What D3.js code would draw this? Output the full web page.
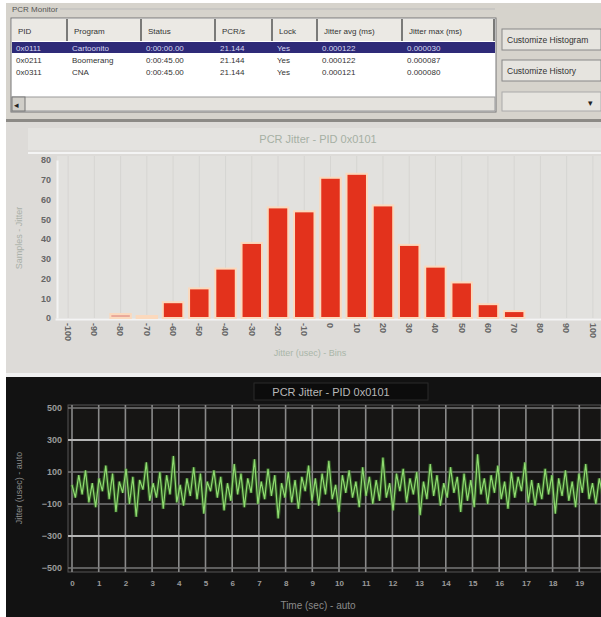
<!DOCTYPE html>
<html><head><meta charset="utf-8">
<script src="https://cdn.jsdelivr.net/npm/d3@7"></script>
<style>
html,body{margin:0;padding:0;background:#fff;}
svg{display:block;font-family:"Liberation Sans",Arial,sans-serif;}
</style></head>
<body>
<svg id="c" width="601" height="617"></svg>
<script>
// ---- table data ----
const tableHeaders = ["PID","Program","Status","PCR/s","Lock","Jitter avg (ms)","Jitter max (ms)"];
const pids = ["0x0111","0x0211","0x0311"];
const programs = ["Cartoonito","Boomerang","CNA"];
const statuses = ["0:00:00.00","0:00:45.00","0:00:45.00"];
const pcrRates = ["21.144","21.144","21.144"];
const locks = ["Yes","Yes","Yes"];
const jitterAvg = ["0.000122","0.000122","0.000121"];
const jitterMax = ["0.000030","0.000087","0.000080"];
const buttons = ["Customize Histogram","Customize History"];

// ---- histogram data ----
const histTitle = "PCR Jitter - PID 0x0101";
const binLabels = ["-100","-90","-80","-70","-60","-50","-40","-30","-20","-10","0","10","20","30","40","50","60","70","80","90","100"];
const binCounts = [0,0,2,1,8,15,25,38,56,54,71,73,57,37,26,18,7,3.5,0,0,0];
const histYTicks = [0,10,20,30,40,50,60,70,80];

// ---- history (line) data ----
const lineTitle = "PCR Jitter - PID 0x0101";
const lineYTicks = [500,300,100,-100,-300,-500];
const lineXTicks = [0,1,2,3,4,5,6,7,8,9,10,11,12,13,14,15,16,17,18,19];
const jitterSeries = [20,-60,80,-40,110,-90,30,-120,60,-20,140,-70,90,-150,40,-30,120,-100,70,-180,50,-10,160,-80,30,-60,100,-130,80,-40,200,-90,20,-110,60,-50,130,-70,90,-160,40,-20,110,-60,70,-140,30,-80,150,-40,90,-120,60,-30,180,-100,40,-70,120,-50,80,-190,30,-60,100,-90,50,-130,70,-20,140,-80,60,-110,90,-40,170,-70,20,-150,80,-30,110,-60,40,-120,130,-50,70,-100,50,-80,190,-60,30,-140,90,-20,120,-90,60,-40,100,-170,40,-70,150,-50,80,-110,30,-60,130,-30,70,-150,90,-80,50,-120,210,-40,60,-100,80,-30,140,-70,40,-130,100,-60,70,-20,160,-90,50,-110,30,-70,120,-40,80,-160,60,-50,110,-80,40,-120,90,-30,150,-70,30,-100,60,-40,130];

const svg = d3.select("#c");

// ================= TOP PANEL =================
const topG = svg.append("g");
topG.append("rect").attr("x",6).attr("y",3).attr("width",595).attr("height",116).attr("fill","#d6d3cc");
topG.append("text").attr("x",12).attr("y",12).attr("font-size",8).attr("fill","#555").text("PCR Monitor");
topG.append("line").attr("x1",60).attr("x2",495).attr("y1",9).attr("y2",9).attr("stroke","#bbb");
const tbl = topG.append("g");
tbl.append("rect").attr("x",11).attr("y",18).attr("width",485).attr("height",94).attr("fill","#fff").attr("stroke","#777");
const colEdges = [12,68,142,216,273,318,403,495];
const colX = d3.scaleOrdinal().domain(d3.range(7)).range(colEdges.slice(0,7));
tableHeaders.forEach((h,i)=>{
  const x0 = colEdges[i], x1 = colEdges[i+1];
  tbl.append("rect").attr("x",x0).attr("y",19).attr("width",x1-x0).attr("height",22).attr("fill","#ebe9e4");
  tbl.append("line").attr("x1",x1-1).attr("x2",x1-1).attr("y1",19).attr("y2",41).attr("stroke","#555").attr("stroke-width",1.5);
  tbl.append("text").attr("x",colX(i)+6).attr("y",34).attr("font-size",8).attr("fill","#333").text(h);
});
const rows = pids.map((p,i)=>[p,programs[i],statuses[i],pcrRates[i],locks[i],jitterAvg[i],jitterMax[i]]);
const rowY = d3.scaleLinear().domain([0,1]).range([48,60]);
tbl.append("rect").attr("x",12).attr("y",42).attr("width",483).attr("height",11).attr("fill","#2e2a78");
rows.forEach((r,ri)=>{
  r.forEach((v,ci)=>{
    tbl.append("text").attr("x",colX(ci)+4).attr("y",rowY(ri)+3).attr("font-size",8)
      .attr("fill", ri===0 ? "#d8d8f0" : "#333").text(v);
  });
});
tbl.append("rect").attr("x",12).attr("y",97).attr("width",483).attr("height",14).attr("fill","#e4e2dd").attr("stroke","#999");
tbl.append("rect").attr("x",12).attr("y",97).attr("width",13).attr("height",14).attr("fill","#d0cec8").attr("stroke","#777");
tbl.append("text").attr("x",14).attr("y",108).attr("font-size",9).attr("fill","#222").text("◂");
buttons.forEach((b,i)=>{
  const by = 29 + i*31;
  topG.append("rect").attr("x",502).attr("y",by).attr("width",99).attr("height",21).attr("fill","#e6e4df").attr("stroke","#888");
  topG.append("text").attr("x",507).attr("y",by+14).attr("font-size",8.5).attr("fill","#333").text(b);
});
topG.append("rect").attr("x",502).attr("y",92).attr("width",99).attr("height",19).attr("fill","#e6e4df").attr("stroke","#aaa");
topG.append("text").attr("x",588).attr("y",106).attr("font-size",9).attr("fill","#222").text("▾");

// ================= HISTOGRAM =================
const hg = svg.append("g");
hg.append("rect").attr("x",6).attr("y",119).attr("width",595).attr("height",3).attr("fill","#8c8a86");
hg.append("rect").attr("x",6).attr("y",122).attr("width",595).attr("height",251).attr("fill","#dddbd8");
hg.append("rect").attr("x",28).attr("y",128).attr("width",573).attr("height",22).attr("fill","#e4e3e0");
hg.append("line").attr("x1",28).attr("x2",601).attr("y1",153).attr("y2",153).attr("stroke","#f4f4f4").attr("stroke-width",2);
hg.append("text").attr("x",318).attr("y",143).attr("text-anchor","middle").attr("font-size",11).attr("fill","#a6b0a4").text(histTitle);

const hx = d3.scaleBand().domain(binLabels).range([55,606]).paddingInner(0.22).paddingOuter(0.11);
const hy = d3.scaleLinear().domain([0,80]).range([318,160]);

hg.append("rect").attr("x",57).attr("y",156).attr("width",544).attr("height",162).attr("fill","#e2e1de");
hg.append("g").selectAll("line").data(binLabels).join("line")
  .attr("x1",d=>hx(d)+hx.bandwidth()/2).attr("x2",d=>hx(d)+hx.bandwidth()/2)
  .attr("y1",156).attr("y2",318).attr("stroke","#d6d5d2").attr("stroke-width",1);
const hyAxis = d3.axisLeft(hy).tickValues(histYTicks).tickSize(0).tickPadding(6);
const hyG = hg.append("g").attr("transform","translate(57,0)").call(hyAxis);
hyG.select(".domain").attr("stroke","#f4f4f4").attr("stroke-width",2);
hyG.selectAll("text").attr("font-size",9).attr("font-weight","bold").attr("fill","#666");
const hxAxis = d3.axisBottom(hx).tickSize(0).tickPadding(0);
const hxG = hg.append("g").attr("transform","translate(0,319)").call(hxAxis);
hxG.select(".domain").attr("stroke","#f4f4f4").attr("stroke-width",2);
hxG.selectAll("text").attr("font-size",9).attr("font-weight","bold").attr("fill","#666")
  .attr("x",0).attr("y",0).attr("dy","0.35em").attr("text-anchor","start")
  .attr("transform","translate(0,4) rotate(90)");
hg.append("g").selectAll("rect").data(binLabels).join("rect")
  .attr("x",d=>hx(d)).attr("width",hx.bandwidth())
  .attr("y",(d,i)=>hy(binCounts[i])).attr("height",(d,i)=>hy(0)-hy(binCounts[i]))
  .attr("fill",(d,i)=>binCounts[i]<3 ? "#e9a89a" : "#e3321c")
  .attr("stroke","#fbd9bd").attr("stroke-width",2);
hg.append("text").attr("x",310).attr("y",356).attr("text-anchor","middle").attr("font-size",9).attr("fill","#a9b6a8").text("Jitter (usec) - Bins");
hg.append("text").attr("transform","translate(22,238) rotate(-90)").attr("text-anchor","middle").attr("font-size",9).attr("fill","#a9b0a8").text("Samples - Jitter");

// ================= LINE CHART =================
const lg = svg.append("g");
lg.append("rect").attr("x",6).attr("y",373).attr("width",595).attr("height",4).attr("fill","#f0f0f0");
lg.append("rect").attr("x",6).attr("y",377).attr("width",595).attr("height",240).attr("fill","#121212");
lg.append("rect").attr("x",254).attr("y",383).attr("width",174).attr("height",17).attr("fill","#0c0c0c").attr("stroke","#2a2a2a");
lg.append("text").attr("x",331).attr("y",396).attr("text-anchor","middle").attr("font-size",11).attr("fill","#b8b8b8").text(lineTitle);

const lx = d3.scaleLinear().domain([0,20]).range([72,606]);
const ly = d3.scaleLinear().domain([-500,500]).range([568,408]);
const ix = d3.scaleLinear().domain([0,jitterSeries.length-1]).range([0,20]);

lg.append("rect").attr("x",68).attr("y",405).attr("width",533).attr("height",167).attr("fill","#161514").attr("stroke","#555");
lg.append("g").selectAll("line").data(lineXTicks).join("line")
  .attr("x1",d=>lx(d)).attr("x2",d=>lx(d)).attr("y1",405).attr("y2",572)
  .attr("stroke","#8a8a8a").attr("stroke-width",1.6);
lg.append("g").selectAll("line").data(lineYTicks).join("line")
  .attr("x1",68).attr("x2",601).attr("y1",d=>ly(d)).attr("y2",d=>ly(d))
  .attr("stroke",(d)=> (d===300||d===-300) ? "#b5b5b5" : "#777").attr("stroke-width",(d)=> (d===300||d===-300)?2:1.5);
const lyAxis = d3.axisLeft(ly).tickValues(lineYTicks).tickSize(0).tickPadding(6);
const lyG = lg.append("g").attr("transform","translate(68,0)").call(lyAxis);
lyG.select(".domain").remove();
lyG.selectAll("text").attr("font-size",9).attr("font-weight","bold").attr("fill","#9a9a9a");
const lxAxis = d3.axisBottom(lx).tickValues(lineXTicks).tickSize(0).tickPadding(6);
const lxG = lg.append("g").attr("transform","translate(0,574)").call(lxAxis);
lxG.select(".domain").remove();
lxG.selectAll("text").attr("font-size",8).attr("font-weight","bold").attr("fill","#9a9a9a");
const line = d3.line().x((d,i)=>lx(ix(i))).y(d=>ly(d));
lg.append("path").datum(jitterSeries).attr("d",line).attr("fill","none").attr("stroke","#3d7a2c").attr("stroke-width",3.5).attr("opacity",0.6);
lg.append("path").datum(jitterSeries).attr("d",line).attr("fill","none").attr("stroke","#8fdc70").attr("stroke-width",1.2);
lg.append("text").attr("x",318).attr("y",609).attr("text-anchor","middle").attr("font-size",10).attr("fill","#8a8a8a").text("Time (sec) - auto");
lg.append("text").attr("transform","translate(22,488) rotate(-90)").attr("text-anchor","middle").attr("font-size",9).attr("fill","#8a8a8a").text("Jitter (usec) - auto");
</script>
</body></html>
